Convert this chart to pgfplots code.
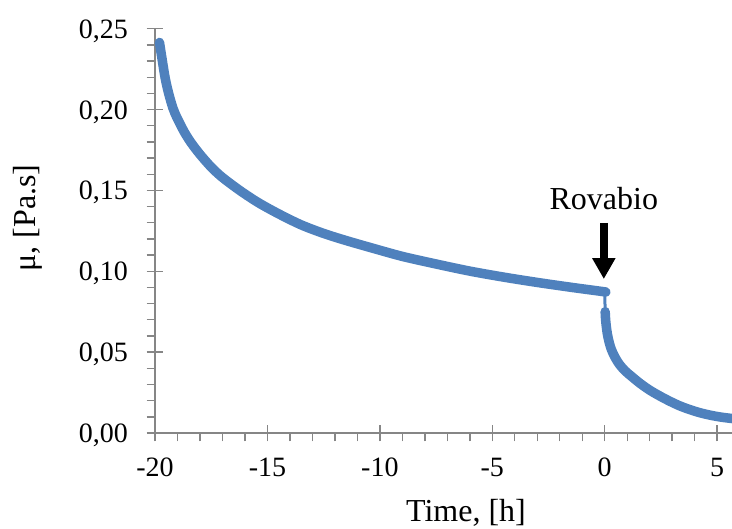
\documentclass[border=0pt]{standalone}
\usepackage{pgfplots}
\pgfplotsset{compat=1.18}
\usepackage{fontspec}
\setmainfont{Liberation Serif}
\usetikzlibrary{arrows.meta}
\definecolor{axgray}{RGB}{134,134,134}
\definecolor{serblue}{RGB}{79,129,189}
\pgfplotstableread{
x y
-19.80 0.2415
-19.70 0.2325
-19.55 0.2197
-19.40 0.2104
-19.20 0.2008
-19.00 0.1943
-18.70 0.1862
-18.40 0.1796
-18.00 0.1723
-17.50 0.1644
-17.00 0.1580
-16.20 0.1497
-15.40 0.1424
-14.50 0.1355
-13.50 0.1287
-12.50 0.1234
-11.50 0.1190
-10.30 0.1142
-9.00 0.1092
-7.50 0.1045
-6.00 0.1001
-4.50 0.0964
-3.00 0.0931
-1.50 0.0901
-0.06 0.0874
0.00 0.0872
}\before
\pgfplotstableread{
x y
0.00 0.0872
0.02 0.0750
}\gap
\pgfplotstableread{
x y
0.02 0.0750
0.04 0.0700
0.07 0.0660
0.12 0.0610
0.20 0.0560
0.30 0.0515
0.45 0.0470
0.65 0.0425
0.90 0.0385
1.20 0.0349
1.57 0.0307
2.00 0.0265
2.46 0.0228
2.90 0.0196
3.35 0.0167
3.80 0.0144
4.24 0.0125
4.70 0.0110
5.13 0.0099
5.57 0.0091
5.70 0.0089
}\after
\begin{document}
\begin{tikzpicture}
\useasboundingbox (-155pt,-96pt) rectangle (577pt,433pt);
% outside ticks (major + minor), no labels
\begin{axis}[
  scale only axis, width=577pt, height=404.3pt,
  xmin=-20, xmax=5.66, ymin=0, ymax=0.25,
  axis lines*=left,
  axis line style={axgray, line width=1.4pt},
  tick style={axgray, line width=1.4pt},
  tick align=outside,
  major tick length=8.3pt, minor tick length=8.3pt,
  xtick={-20,-15,-10,-5,0,5}, ytick={0,0.05,0.1,0.15,0.2,0.25},
  minor x tick num=4, minor y tick num=4,
  xticklabels={}, yticklabels={},
]
\end{axis}
% main axis: inside halves of major ticks, labels, data
\begin{axis}[
  scale only axis, width=577pt, height=404.3pt,
  xmin=-20, xmax=5.66, ymin=0, ymax=0.25,
  axis lines*=left,
  axis line style={axgray, line width=1.4pt},
  tick style={axgray, line width=1.4pt},
  tick align=inside,
  major tick length=8.3pt,
  xtick={-20,-15,-10,-5,0,5}, ytick={0,0.05,0.1,0.15,0.2,0.25},
  /pgf/number format/assume math mode=true,
  yticklabel style={/pgf/number format/fixed, /pgf/number format/fixed zerofill,
    /pgf/number format/precision=2, /pgf/number format/use comma,
    anchor=base east, inner sep=0pt, xshift=-27pt, yshift=-9.5pt,
    font=\fontsize{28}{30}\selectfont},
  xticklabel style={anchor=base, inner sep=0pt, yshift=-44pt,
    font=\fontsize{28}{30}\selectfont},
  xlabel={Time, [h]},
  ylabel={μ, [Pa.s]},
  xlabel style={at={(axis description cs:0.539,-0.2177)}, anchor=base, inner sep=0pt,
    font=\fontsize{32}{36}\selectfont},
  ylabel style={at={(axis description cs:-0.221,0.532)}, anchor=center, inner sep=0pt,
    font=\fontsize{32}{36}\selectfont},
]
\addplot[serblue, line width=9.5pt, line cap=round, line join=round, smooth, tension=0.5] table {\before};
\addplot[serblue, line width=3pt] table {\gap};
\addplot[serblue, line width=9.5pt, line cap=round, line join=round, smooth, tension=0.5] table {\after};
\draw[line width=8pt, -{Triangle[length=21pt,width=22pt]}] (axis cs:-0.04,0.130) -- (axis cs:-0.04,0.0952);
\node[anchor=base, inner sep=0pt, font=\fontsize{32}{36}\selectfont] at (axis cs:-0.04,0.1383) {Rovabio};
\end{axis}
\end{tikzpicture}
\end{document}
